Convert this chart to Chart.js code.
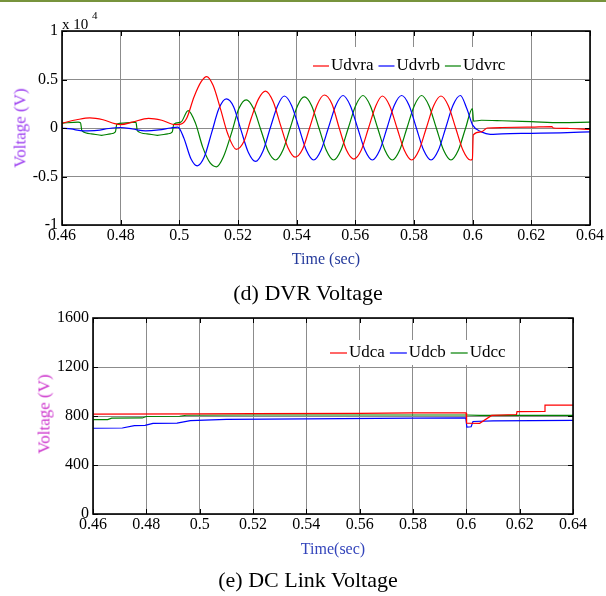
<!DOCTYPE html>
<html><head><meta charset="utf-8">
<script src="https://cdn.jsdelivr.net/npm/chart.js@4.4.1/dist/chart.umd.min.js"></script>
<style>
html,body{margin:0;padding:0;background:#fff;}
#page{position:relative;width:606px;height:596px;overflow:hidden;font-family:"Liberation Serif","Times New Roman",serif;}
#topline{position:absolute;left:0;top:0;width:606px;height:2px;background:#77933c;}
canvas{position:absolute;left:0;}
.t{position:absolute;white-space:nowrap;line-height:1;}
.c{transform:translate(-50%,-50%);}
.r{transform:translate(-50%,-50%) rotate(-90deg);}
</style></head><body>
<div id="page">
<div id="topline"></div>
<canvas id="c1" width="606" height="300" style="top:0;width:606px;height:300px"></canvas>
<canvas id="c2" width="606" height="296" style="top:300px;width:606px;height:296px"></canvas>
<div class="t" style="left:62px;top:17px;font-size:15px;">x 10</div>
<div class="t" style="left:92px;top:10px;font-size:11px;">4</div>
<div class="t r" style="left:20px;top:128px;font-size:17px;color:#9b3cf0;">Voltage (V)</div>
<div class="t c" style="left:326px;top:259px;font-size:16px;color:#23399b;">Time (sec)</div>
<div class="t c" style="left:308px;top:293px;font-size:22px;color:#000;">(d) DVR Voltage</div>
<div class="t r" style="left:44px;top:414px;font-size:17px;color:#cc33cc;">Voltage (V)</div>
<div class="t c" style="left:333px;top:549px;font-size:16px;color:#3344bb;">Time(sec)</div>
<div class="t c" style="left:308px;top:580px;font-size:22px;color:#000;">(e) DC Link Voltage</div>
</div>
<script>
// ---------- DVR voltage (x 10^4 V) ----------
const dvrNames = ["Udvra", "Udvrb", "Udvrc"];
const dvrXTicks = [0.46,0.48,0.5,0.52,0.54,0.56,0.58,0.6,0.62,0.64];
const dvrXTickLabels = ["0.46","0.48","0.5","0.52","0.54","0.56","0.58","0.6","0.62","0.64"];
const dvrYTicks = [-1,-0.5,0,0.5,1];
const dvrYTickLabels = ["-1","-0.5","0","0.5","1"];

const tA = [0.46,0.465,0.4695,0.474,0.478,0.48,0.484,0.4895,0.494,0.4985,0.5005,0.5025,0.505,0.5075,0.5093,0.5115,0.514,0.5165,0.5194,0.522,0.5245,0.527,0.5294,0.532,0.5345,0.537,0.5395,0.542,0.5445,0.547,0.5494,0.552,0.5545,0.557,0.5595,0.562,0.5645,0.567,0.5692,0.5717,0.5742,0.5767,0.5792,0.5817,0.5842,0.5867,0.5892,0.5917,0.5942,0.5967,0.5992,0.5999,0.6002,0.603,0.605,0.61,0.62,0.627,0.6275,0.633,0.64];
const vA = [0.05,0.085,0.105,0.085,0.045,0.035,0.06,0.1,0.08,0.035,0.04,0.1,0.32,0.48,0.53,0.44,0.2,-0.06,-0.22,-0.14,0.1,0.3,0.38,0.27,0.03,-0.2,-0.3,-0.22,0.01,0.24,0.34,0.25,0.0,-0.23,-0.32,-0.23,0.0,0.23,0.33,0.23,0.0,-0.23,-0.33,-0.23,0.0,0.23,0.33,0.23,0.0,-0.23,-0.33,-0.32,-0.07,-0.04,0.0,0.005,0.01,0.015,0.0,-0.005,-0.015];

const tB = [0.46,0.463,0.4675,0.472,0.476,0.48,0.484,0.4885,0.493,0.497,0.4995,0.5015,0.504,0.5061,0.5085,0.511,0.5135,0.516,0.5185,0.521,0.5235,0.526,0.5285,0.531,0.5335,0.5358,0.5383,0.5408,0.5433,0.5458,0.5483,0.5508,0.5533,0.5558,0.5583,0.5608,0.5633,0.5658,0.5683,0.5708,0.5733,0.5758,0.5783,0.5808,0.5833,0.5858,0.5883,0.5908,0.5933,0.5958,0.598,0.6,0.603,0.606,0.61,0.62,0.63,0.64];
const vB = [0.0,-0.01,-0.03,-0.025,-0.005,0.005,-0.01,-0.03,-0.02,0.0,0.01,-0.1,-0.32,-0.39,-0.3,-0.05,0.2,0.3,0.22,-0.02,-0.25,-0.345,-0.24,0.0,0.23,0.33,0.23,0.0,-0.23,-0.33,-0.23,0.0,0.23,0.335,0.23,0.0,-0.23,-0.33,-0.23,0.0,0.235,0.335,0.235,0.0,-0.23,-0.33,-0.23,0.0,0.235,0.335,0.2,0.03,-0.04,-0.065,-0.06,-0.055,-0.05,-0.04];

const tC = [0.46,0.4655,0.4663,0.4668,0.47,0.4735,0.4765,0.4782,0.4787,0.481,0.4852,0.4857,0.489,0.4925,0.496,0.4976,0.4981,0.5005,0.503,0.5055,0.508,0.5105,0.5127,0.515,0.5178,0.5203,0.5228,0.5253,0.5278,0.5303,0.5328,0.5353,0.5378,0.5403,0.5426,0.5451,0.5476,0.5501,0.5526,0.5551,0.5576,0.5601,0.5626,0.5651,0.5676,0.5701,0.5726,0.5751,0.5776,0.5801,0.5826,0.5851,0.5876,0.5901,0.5926,0.5951,0.5976,0.5999,0.6003,0.603,0.61,0.62,0.63,0.64];
const vC = [0.05,0.06,0.055,-0.03,-0.06,-0.075,-0.06,-0.04,0.04,0.05,0.06,-0.03,-0.06,-0.075,-0.06,-0.04,0.04,0.06,0.18,0.05,-0.2,-0.36,-0.4,-0.3,-0.05,0.2,0.29,0.2,-0.02,-0.24,-0.33,-0.23,0.0,0.23,0.32,0.23,0.0,-0.23,-0.33,-0.23,0.0,0.23,0.335,0.23,0.0,-0.23,-0.33,-0.23,0.0,0.23,0.335,0.23,0.0,-0.23,-0.33,-0.23,0.0,0.2,0.07,0.08,0.075,0.065,0.055,0.06];

// ---------- DC link voltage (V) ----------
const dcNames = ["Udca", "Udcb", "Udcc"];
const dcXTicks = [0.46,0.48,0.5,0.52,0.54,0.56,0.58,0.6,0.62,0.64];
const dcXTickLabels = ["0.46","0.48","0.5","0.52","0.54","0.56","0.58","0.6","0.62","0.64"];
const dcYTicks = [0,400,800,1200,1600];
const dcYTickLabels = ["0","400","800","1200","1600"];

const tDa = [0.46,0.5,0.52,0.56,0.58,0.5999,0.6001,0.605,0.6095,0.6188,0.619,0.6293,0.6295,0.64];
const vDa = [815,818,820,822,825,825,742,740,805,812,835,838,888,888];
const tDb = [0.46,0.471,0.4755,0.4795,0.4825,0.4915,0.4965,0.51,0.54,0.58,0.5998,0.6002,0.6018,0.6025,0.61,0.64];
const vDb = [700,702,722,724,740,742,762,772,777,782,785,710,712,755,760,765];
const tDc = [0.46,0.4655,0.467,0.4785,0.48,0.4925,0.495,0.52,0.6,0.605,0.64];
const vDc = [770,770,782,784,796,798,806,808,808,805,805];

// ---------- helpers ----------
const FONT = "'Liberation Serif','Times New Roman',serif";
const pts = (t, v) => t.map((x, i) => ({x: x, y: v[i]}));

const framePlugin = {
  id: 'frame',
  afterDatasetsDraw(chart, args, o) {
    const {ctx, chartArea: a, scales} = chart;
    ctx.save();
    // legend box + legend
    const L = o.legend;
    ctx.font = L.font;
    ctx.textBaseline = 'middle';
    ctx.fillStyle = '#fff';
    ctx.fillRect(L.box[0], L.box[1], L.box[2], L.box[3]);
    let x = L.x;
    chart.data.datasets.forEach(ds => {
      ctx.strokeStyle = ds.borderColor; ctx.lineWidth = 1.2;
      ctx.beginPath(); ctx.moveTo(x, L.y); ctx.lineTo(x + L.lineLen, L.y); ctx.stroke();
      x += L.lineLen + L.gap1;
      ctx.fillStyle = '#000';
      ctx.fillText(ds.label, x, L.y);
      x += ctx.measureText(ds.label).width + L.gap2;
    });
    // inward ticks
    ctx.strokeStyle = '#000'; ctx.lineWidth = 1;
    scales.x.ticks.forEach(t => {
      const px = Math.round(scales.x.getPixelForValue(t.value)) + 0.5;
      ctx.beginPath();
      ctx.moveTo(px, a.bottom); ctx.lineTo(px, a.bottom - 5);
      ctx.moveTo(px, a.top); ctx.lineTo(px, a.top + 5);
      ctx.stroke();
    });
    scales.y.ticks.forEach(t => {
      const py = Math.round(scales.y.getPixelForValue(t.value)) + 0.5;
      ctx.beginPath();
      ctx.moveTo(a.left, py); ctx.lineTo(a.left + 5, py);
      ctx.moveTo(a.right, py); ctx.lineTo(a.right - 5, py);
      ctx.stroke();
    });
    // frame
    ctx.lineWidth = 1.6;
    ctx.strokeRect(a.left, a.top, a.right - a.left, a.bottom - a.top);
    ctx.restore();
  }
};

function makeChart(id, names, series, colors, xT, xL, yT, yL, ymin, ymax, box, legend, smooth) {
  const ctx = document.getElementById(id).getContext('2d');
  return new Chart(ctx, {
    type: 'line',
    data: {
      datasets: series.map((s, i) => ({
        label: names[i], data: s, borderColor: colors[i], backgroundColor: colors[i],
        borderWidth: 1.2, pointRadius: 0, fill: false,
        cubicInterpolationMode: smooth ? 'monotone' : 'default', tension: 0
      }))
    },
    plugins: [framePlugin],
    options: {
      responsive: false, animation: false, devicePixelRatio: 1,
      layout: {padding: {left: 0, top: box.top, right: box.right, bottom: 0}},
      plugins: {legend: {display: false}, tooltip: {enabled: false},
        frame: {legend: legend}},
      scales: {
        x: {
          type: 'linear', min: xT[0], max: xT[xT.length - 1],
          afterBuildTicks: s => { s.ticks = xT.map(v => ({value: v})); },
          afterFit: s => { s.height = box.xh; },
          ticks: {callback: (v, i) => xL[i], font: {family: FONT, size: 16}, color: '#000',
            padding: 1, maxRotation: 0, autoSkip: false},
          grid: {color: '#8c8c8c', lineWidth: 1, drawTicks: false},
          border: {display: false}
        },
        y: {
          type: 'linear', min: ymin, max: ymax,
          afterBuildTicks: s => { s.ticks = yT.map(v => ({value: v})); },
          afterFit: s => { s.width = box.yw; },
          ticks: {callback: (v, i) => yL[i], font: {family: FONT, size: 16}, color: '#000',
            padding: 4, autoSkip: false},
          grid: {color: '#8c8c8c', lineWidth: 1, drawTicks: false},
          border: {display: false}
        }
      }
    }
  });
}

const colors = ['#ff0000', '#0000ff', '#008000'];
makeChart('c1', dvrNames, [pts(tA, vA), pts(tB, vB), pts(tC, vC)], colors,
  dvrXTicks, dvrXTickLabels, dvrYTicks, dvrYTickLabels, -1, 1,
  {top: 31, right: 16, xh: 75, yw: 62},
  {font: "17px " + FONT, x: 313, y: 66, lineLen: 16, gap1: 2, gap2: 5, box: [306, 47, 220, 31]}, true);
makeChart('c2', dcNames, [pts(tDa, vDa), pts(tDb, vDb), pts(tDc, vDc)], colors,
  dcXTicks, dcXTickLabels, dcYTicks, dcYTickLabels, 0, 1600,
  {top: 18, right: 33, xh: 82, yw: 93},
  {font: "17px " + FONT, x: 330, y: 53, lineLen: 17, gap1: 2, gap2: 5, box: [323, 40, 190, 25]}, false);
</script>
</body></html>
